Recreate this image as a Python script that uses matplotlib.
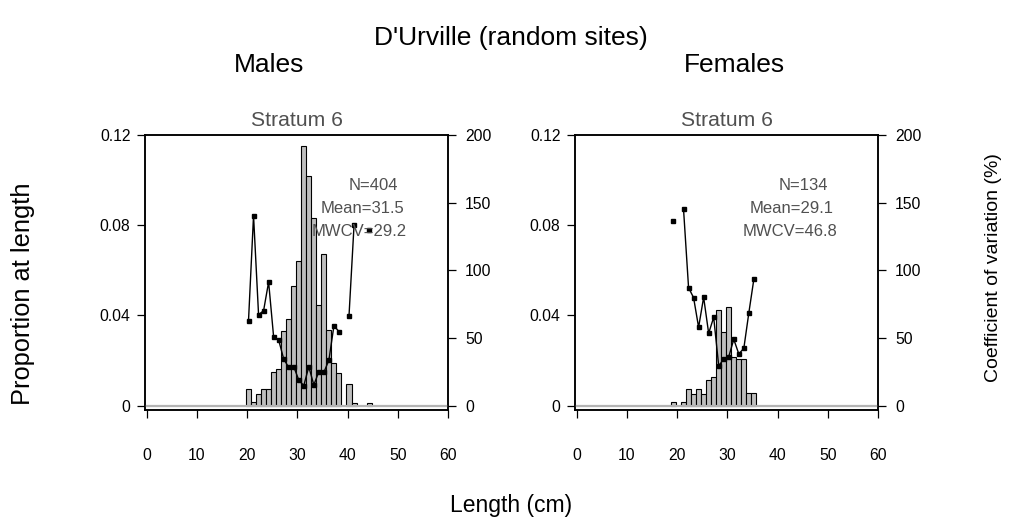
import numpy as np
import matplotlib
matplotlib.use("Agg")
import matplotlib.pyplot as plt

plt.rcParams['font.family'] = ['Liberation Sans', 'DejaVu Sans']

# ---------------- data ----------------
male_lengths = [20, 21, 22, 23, 24, 25, 26, 27, 28, 29, 30, 31, 32, 33, 34, 35, 36, 37, 38, 39, 40, 41, 42, 43, 44]
male_prop = [0.0075, 0.0016, 0.0053, 0.0075, 0.0075, 0.0148, 0.0163, 0.0330, 0.0386, 0.0530, 0.0640,
             0.1153, 0.1020, 0.0830, 0.0445, 0.0674, 0.0334, 0.0190, 0.0143, 0.0, 0.0095, 0.0013, 0.0, 0.0, 0.0013]
male_cv = [62.8, 140.4, 67.2, 70.2, 91.4, 50.7, 48.5, 34.5, 28.3, 28.8, 19.0, 14.8, 28.8, 15.3, 25.1, 24.6,
           33.7, 59.1, 54.7, np.nan, 66.5, 133.3, np.nan, np.nan, 129.8]

female_lengths = [19, 20, 21, 22, 23, 24, 25, 26, 27, 28, 29, 30, 31, 32, 33, 34, 35]
female_prop = [0.0018, 0.0, 0.0016, 0.0074, 0.0052, 0.0074, 0.0052, 0.0112, 0.0126, 0.0424, 0.0327, 0.0436,
               0.0217, 0.0205, 0.0205, 0.0055, 0.0055]
female_cv = [136.7, np.nan, 145.1, 87.2, 79.8, 57.9, 80.1, 53.5, 65.3, 29.3, 34.5, 36.2, 49.0, 38.2, 42.4, 68.7, 93.6]

panel_titles = ["Males", "Females"]
stratum_label = "Stratum 6"
stats_n = [404, 134]
stats_mean = [31.5, 29.1]
stats_mwcv = [29.2, 46.8]

x_ticks = [0, 10, 20, 30, 40, 50, 60]
prop_ticks = [0, 0.04, 0.08, 0.12]
prop_ticklabels = ["0", "0.04", "0.08", "0.12"]
cv_ticks = [0, 50, 100, 150, 200]

# ---------------- figure ----------------
W, H = 1026, 525
fig = plt.figure(figsize=(W / 100, H / 100), dpi=100)


def fx(px):
    return px / W


def fy(py):
    return 1 - py / H


grey_text = '#505050'
panels = [
    (145, male_lengths, male_prop, male_cv),
    (575, female_lengths, female_prop, female_cv),
]

for i, (left_px, lengths, prop, cv) in enumerate(panels):
    ax = fig.add_axes([fx(left_px), fy(410), 303 / W, 275 / H])
    ax2 = ax.twinx()
    ax.set_zorder(ax2.get_zorder() - 1)
    ax.patch.set_visible(True)
    ax2.patch.set_visible(False)

    L = np.array(lengths, dtype=float)
    P = np.array(prop, dtype=float)
    C = np.array(cv, dtype=float)
    m = P > 0
    ax.bar(L[m] - 0.2, P[m], width=1.0, align='edge', color='#bebebe',
           edgecolor='black', linewidth=0.8, zorder=2)
    ax.axhline(0, color='#b4b4b4', lw=1.6, zorder=3)

    ax2.plot(L + 0.3, C, color='black', lw=1.0, marker='s', ms=2.5,
             mfc='black', mec='black', zorder=4)

    ax.set_xlim(-0.3, 60)
    ax.set_ylim(-0.0019, 0.12)
    ax2.set_ylim(-3.2, 200)

    ax.set_xticks(x_ticks)
    ax.set_xticklabels([str(t) for t in x_ticks])
    ax.set_yticks(prop_ticks)
    ax.set_yticklabels(prop_ticklabels)
    ax2.set_yticks(cv_ticks)
    ax2.set_yticklabels([str(t) for t in cv_ticks])

    ax.tick_params(axis='x', direction='out', length=6, width=0.9, pad=21, labelsize=11.3)
    ax.tick_params(axis='y', direction='out', length=6, width=0.9, pad=4.5, labelsize=11.3,
                   left=True, right=False)
    ax2.tick_params(axis='y', direction='out', length=6, width=0.9, pad=6.2, labelsize=11.3,
                    left=False, right=True)
    for a in (ax, ax2):
        for s in a.spines.values():
            s.set_linewidth(1.1)
            s.set_color('black')

    # stratum title
    cx = left_px + 151.5
    fig.text(fx(cx), fy(125.7), stratum_label, ha='center', va='baseline',
             fontsize=15.2, color=grey_text)
    # panel heading
    fig.text(fx(left_px + 124 if i == 0 else left_px + 159), fy(71.7), panel_titles[i],
             ha='center', va='baseline', fontsize=19)

    # stats annotation
    fig.text(fx(left_px + 253.5), fy(190), f"N={stats_n[i]}", ha='right', va='baseline',
             fontsize=12, color=grey_text)
    fig.text(fx(left_px + 259), fy(213), f"Mean={stats_mean[i]}", ha='right', va='baseline',
             fontsize=12, color=grey_text)
    fig.text(fx(left_px + 262), fy(236), f"MWCV={stats_mwcv[i]}", ha='right', va='baseline',
             fontsize=12, color=grey_text)

fig.text(fx(511), fy(45), "D'Urville (random sites)", ha='center', va='baseline', fontsize=19)
fig.text(fx(511), fy(512), "Length (cm)", ha='center', va='baseline', fontsize=16.5)
fig.text(fx(23), fy(294), "Proportion at length", rotation=90, ha='center', va='center', fontsize=18.3)
fig.text(fx(993), fy(268), "Coefficient of variation (%)", rotation=90, ha='center', va='center', fontsize=14)

fig.savefig("out.png", dpi=100)
